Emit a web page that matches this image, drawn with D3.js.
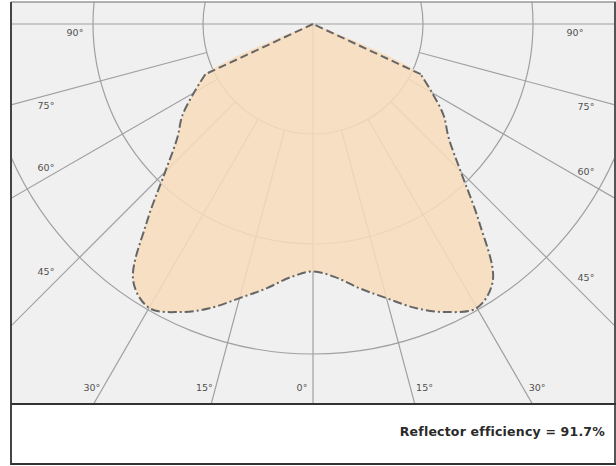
<!DOCTYPE html>
<html>
<head>
<meta charset="utf-8">
<script src="https://cdn.jsdelivr.net/npm/d3@7"></script>
<style>
  body { margin: 0; background: #fff; }
  svg { display: block; font-family: "DejaVu Sans", sans-serif; }
</style>
</head>
<body>
<div id="chart"></div>
<script>
// Polar light distribution, values in relative units (one ring = 100)
var angles = [0, 5, 10, 15, 20, 25, 30, 35, 40, 45, 50, 55, 60, 65, 90];
var intensity = [225, 231, 244, 258, 275, 289, 298, 285, 235, 190, 161, 145, 125, 108, 0];
var rings = [100, 200, 300];
var gridAngles = [15, 30, 45, 60, 75];
var labelAngles = [90, 75, 60, 45, 30, 15, 0];
var efficiencyText = 'Reflector efficiency = 91.7%';

var W = 616, H = 466;
var plot = { left: 11, right: 614, top: 2, bottom: 404 };
var cx = (plot.left + plot.right) / 2 + 0.5, cy = 24;

var svg = d3.select('#chart').append('svg')
  .attr('width', W)
  .attr('height', H);

var r = d3.scaleLinear().domain([0, 300]).range([0, 330]);
var rad = function(deg){ return deg * Math.PI / 180; };

svg.append('clipPath').attr('id', 'plotclip')
  .append('rect')
    .attr('x', plot.left).attr('y', plot.top)
    .attr('width', plot.right - plot.left).attr('height', plot.bottom - plot.top);

// backgrounds
svg.append('rect').attr('x', 0).attr('y', 0).attr('width', W).attr('height', H).attr('fill', '#fff');
svg.append('rect')
  .attr('x', plot.left).attr('y', plot.top)
  .attr('width', plot.right - plot.left).attr('height', plot.bottom - plot.top)
  .attr('fill', '#f0f0f0');

var g = svg.append('g').attr('clip-path', 'url(#plotclip)')
  .append('g').attr('transform', 'translate(' + cx + ',' + cy + ')');

// rings
g.selectAll('.ring').data(rings).enter().append('circle')
  .attr('class', 'ring')
  .attr('r', function(d){ return r(d); })
  .attr('fill', 'none')
  .attr('stroke', '#a0a0a0')
  .attr('stroke-width', 1.2);

// radial lines, both sides, starting at the first ring
var spokes = [];
gridAngles.forEach(function(a){ spokes.push(a); spokes.push(-a); });
g.selectAll('.spoke').data(spokes).enter().append('line')
  .attr('class', 'spoke')
  .attr('x1', function(d){ return r(rings[0]) * Math.sin(rad(d)); })
  .attr('y1', function(d){ return r(rings[0]) * Math.cos(rad(d)); })
  .attr('x2', function(d){ return 800 * Math.sin(rad(d)); })
  .attr('y2', function(d){ return 800 * Math.cos(rad(d)); })
  .attr('stroke', '#a0a0a0')
  .attr('stroke-width', 1.2);

// 0 and 90 degree axes
g.append('line').attr('x1', 0).attr('y1', 0).attr('x2', 0).attr('y2', 800)
  .attr('stroke', '#a0a0a0').attr('stroke-width', 1.2);
g.append('line').attr('x1', -800).attr('y1', 0).attr('x2', 800).attr('y2', 0)
  .attr('stroke', '#a0a0a0').attr('stroke-width', 1.2);

// build the curve: left side 90 -> 0, then right side 5 -> 90
var pts = [];
for (var i = angles.length - 1; i >= 0; i--) pts.push({ a: -angles[i], v: intensity[i] });
for (var j = 1; j < angles.length; j++) pts.push({ a: angles[j], v: intensity[j] });

var radial = d3.lineRadial()
  .angle(function(d){ return Math.PI - rad(d.a); })
  .radius(function(d){ return r(d.v); })
  .curve(d3.curveCatmullRom.alpha(0.5));

g.append('path')
  .attr('d', radial(pts) + 'Z')
  .attr('fill', '#f8dcbc')
  .attr('fill-opacity', 0.86)
  .attr('stroke', 'none');

// lower outline dash-dot, the two straight top chords plain dashes
var body = pts.filter(function(d){ return Math.abs(d.a) <= 65; });
var chords = [pts.slice(0, 2), pts.slice(pts.length - 2)];

g.append('path')
  .attr('d', radial(body))
  .attr('fill', 'none')
  .attr('stroke', '#666')
  .attr('stroke-width', 2)
  .attr('stroke-dasharray', '9,3,2,3');

g.selectAll('.chord').data(chords).enter().append('path')
  .attr('class', 'chord')
  .attr('d', d3.lineRadial()
    .angle(function(d){ return Math.PI - rad(d.a); })
    .radius(function(d){ return r(d.v); }))
  .attr('fill', 'none')
  .attr('stroke', '#666')
  .attr('stroke-width', 2)
  .attr('stroke-dasharray', '8,4');

// angle labels
var labelNudge = { 90: 9, 75: 10, 60: -10, 45: -19 };
var labels = [];
labelAngles.forEach(function(a){
  [-1, 1].forEach(function(side){
    if (a === 0 && side === 1) return;
    var x, y;
    if (a <= 30) {
      y = 388;
      x = cx + side * (y - cy) * Math.tan(rad(a)) + (side < 0 ? -11 : 14);
    } else {
      x = a === 90 ? (side < 0 ? 75 : 575) : (side < 0 ? 46 : 586);
      y = cy + Math.abs(x - cx) / Math.tan(rad(a)) + labelNudge[a];
      if (a === 90) y = cy + labelNudge[a];
    }
    labels.push({ a: a, x: x, y: y });
  });
});

svg.selectAll('.albl').data(labels).enter().append('text')
  .attr('class', 'albl')
  .attr('x', function(d){ return d.x; })
  .attr('y', function(d){ return d.y; })
  .attr('dy', '0.35em')
  .attr('text-anchor', 'middle')
  .attr('font-size', 9.5)
  .attr('fill', '#505050')
  .text(function(d){ return d.a + '°'; });

// frame
svg.append('line').attr('x1', plot.left).attr('x2', W).attr('y1', plot.top).attr('y2', plot.top)
  .attr('stroke', '#999').attr('stroke-width', 1.5);
svg.append('line').attr('x1', plot.left).attr('x2', plot.left).attr('y1', plot.top).attr('y2', 465)
  .attr('stroke', '#444').attr('stroke-width', 2);
svg.append('line').attr('x1', plot.right + 1).attr('x2', plot.right + 1).attr('y1', plot.top).attr('y2', 465)
  .attr('stroke', '#555').attr('stroke-width', 2);
svg.append('line').attr('x1', plot.left).attr('x2', W).attr('y1', plot.bottom).attr('y2', plot.bottom)
  .attr('stroke', '#333').attr('stroke-width', 2);
svg.append('line').attr('x1', plot.left).attr('x2', W).attr('y1', 464).attr('y2', 464)
  .attr('stroke', '#333').attr('stroke-width', 2);

svg.append('text')
  .attr('x', 605)
  .attr('y', 436)
  .attr('text-anchor', 'end')
  .attr('font-size', 12.5)
  .attr('font-weight', 'bold')
  .attr('letter-spacing', 0.2)
  .attr('fill', '#2a2a2a')
  .text(efficiencyText);
</script>
</body>
</html>
